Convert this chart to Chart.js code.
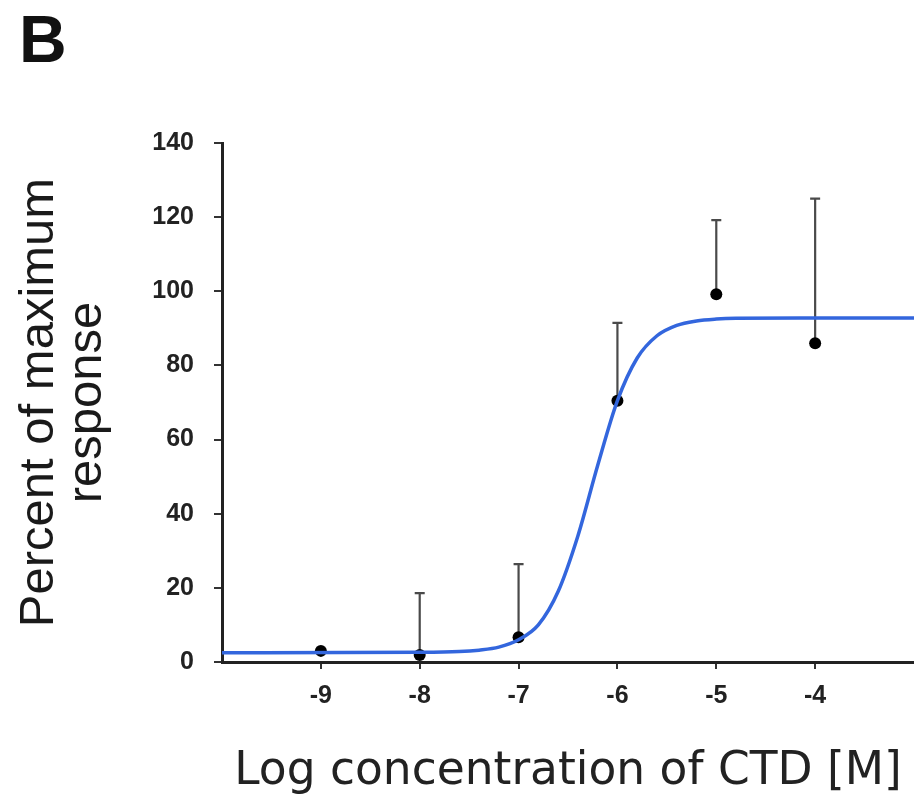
<!DOCTYPE html>
<html>
<head>
<meta charset="utf-8">
<script src="https://cdn.jsdelivr.net/npm/chart.js@4.4.1/dist/chart.umd.min.js"></script>
<style>
  html, body { margin: 0; padding: 0; background: #fff; }
  #wrap { width: 914px; height: 799px; }
</style>
</head>
<body>
<div id="wrap"><canvas id="myChart" width="914" height="799"></canvas></div>
<script>
// measured points (mean) and top of the error bar
const logConc = [-9, -8, -7, -6, -5, -4];
const response = [3, 1.9, 6.7, 70.5, 99.2, 86];
const errTop = [3, 18.6, 26.4, 91.5, 119.2, 125];

// fitted curve
const fitX = [-10, -8, -7.6, -7.4, -7.2, -7, -6.8, -6.6, -6.4, -6.2, -6, -5.8, -5.6, -5.4, -5.2, -5, -4.8, -4, -3];
const fitY = [2.5, 2.6, 2.8, 3.2, 4, 6, 10, 19, 34, 53, 70.5, 82, 88, 90.8, 92, 92.5, 92.7, 92.8, 92.8];

const xTicks = [-9, -8, -7, -6, -5, -4];

const tickFont = { family: '"Liberation Sans", Arial, sans-serif', size: 25, weight: 'bold' };

const errorBars = {
  id: 'errorBars',
  beforeDatasetsDraw(chart) {
    const { ctx, scales: { x, y } } = chart;
    ctx.save();
    ctx.strokeStyle = '#4a4a4a';
    ctx.lineWidth = 2.2;
    logConc.forEach((c, i) => {
      if (errTop[i] <= response[i]) return;
      const px = x.getPixelForValue(c);
      const y0 = y.getPixelForValue(response[i]);
      const y1 = y.getPixelForValue(errTop[i]);
      ctx.beginPath();
      ctx.moveTo(px, y0);
      ctx.lineTo(px, y1);
      ctx.moveTo(px - 5, y1);
      ctx.lineTo(px + 5, y1);
      ctx.stroke();
    });
    ctx.restore();
  }
};

const panelLetter = {
  id: 'panelLetter',
  afterDraw(chart) {
    const c = chart.ctx;
    c.save();
    c.font = 'bold 66px "Liberation Sans", Arial, sans-serif';
    c.fillStyle = '#111';
    c.textBaseline = 'alphabetic';
    c.fillText('B', 19, 62);
    c.restore();
  }
};

const ctx = document.getElementById('myChart');

new Chart(ctx, {
  type: 'scatter',
  data: {
    datasets: [
      {
        label: 'fit',
        data: fitX.map((v, i) => ({ x: v, y: fitY[i] })),
        showLine: true,
        borderColor: '#3366dd',
        borderWidth: 3.5,
        pointRadius: 0,
        cubicInterpolationMode: 'monotone',
      },
      {
        label: 'CTD',
        data: logConc.map((v, i) => ({ x: v, y: response[i] })),
        backgroundColor: '#000',
        borderWidth: 0,
        pointRadius: 6,
      },
    ],
  },
  options: {
    responsive: false,
    animation: false,
    layout: { autoPadding: false, padding: { top: 143, left: 0, right: 0, bottom: 0 } },
    plugins: {
      legend: { display: false },
      tooltip: { enabled: false },
    },
    scales: {
      x: {
        type: 'linear',
        min: -10,
        max: -3,
        afterBuildTicks: (s) => { s.ticks = xTicks.map((v) => ({ value: v })); },
        afterFit: (s) => { s.height = 137; s.paddingRight = 0; s.paddingLeft = 0; },
        border: { color: '#222', width: 3 },
        grid: { drawOnChartArea: false, color: '#333', lineWidth: 2, tickLength: 7 },
        ticks: { color: '#222', font: tickFont, padding: 12, maxRotation: 0 },
        title: {
          display: true,
          text: 'Log concentration of CTD [M]',
          color: '#222',
          font: { family: '"DejaVu Sans", sans-serif', size: 45.5 },
          padding: { top: 0, bottom: 0 },
        },
      },
      y: {
        min: 0,
        max: 140,
        afterFit: (s) => { s.width = 222; },
        border: { color: '#222', width: 3 },
        grid: { drawOnChartArea: false, color: '#333', lineWidth: 2, tickLength: 8 },
        ticks: { stepSize: 20, color: '#222', font: tickFont, padding: 20 },
        title: {
          display: true,
          text: ['Percent of maximum', 'response'],
          color: '#1a1a1a',
          font: { family: '"Liberation Sans", Arial, sans-serif', size: 49, lineHeight: 0.98 },
          padding: { top: 15, bottom: 0 },
        },
      },
    },
  },
  plugins: [errorBars, panelLetter],
});
</script>
</body>
</html>
